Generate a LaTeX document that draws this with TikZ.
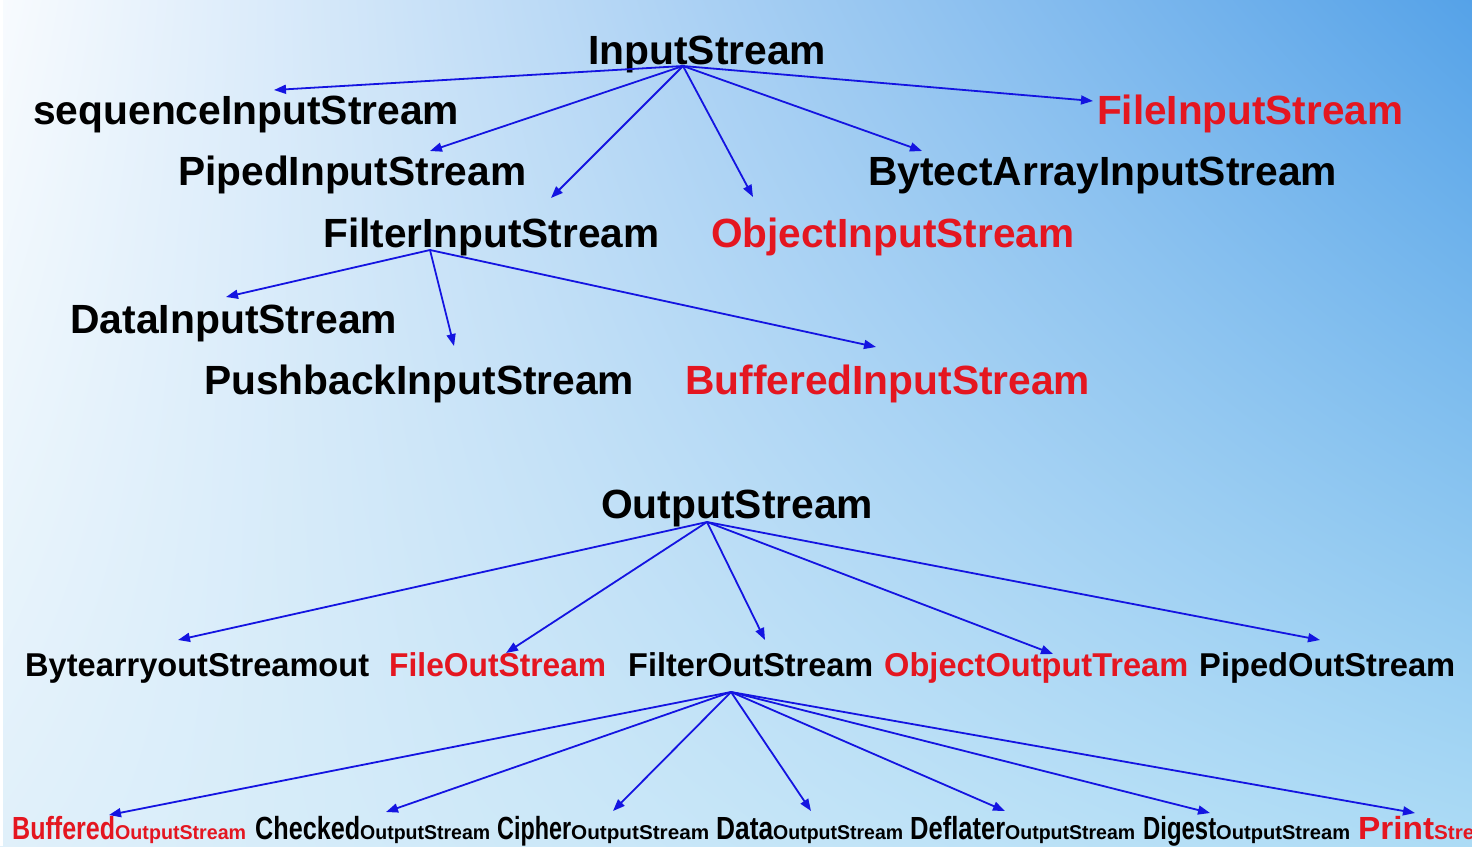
\documentclass[tikz,border=0pt]{standalone}
\usepackage{fontspec}
\usepackage{graphicx}
\setmainfont{Liberation Sans}
\usetikzlibrary{arrows.meta,shadings}
\definecolor{arrblue}{RGB}{20,20,225}
\definecolor{jred}{RGB}{228,22,32}
\definecolor{bgUL}{RGB}{248,251,254}
\definecolor{bgUR}{RGB}{85,162,232}
\definecolor{bgLL}{RGB}{224,240,250}
\definecolor{bgLR}{RGB}{172,219,245}
\newcommand\fitx[2]{\setbox0=\hbox{#2}\pgfmathsetmacro\myratio{#1/\the\wd0}\scalebox{\myratio}[1]{\box0}}
\newcommand\bigpart[2]{\fitx{#1}{\fontsize{32}{38}\selectfont\bfseries #2}}
\newcommand\smallpart[2]{\fitx{#1}{\fontsize{20}{24}\selectfont\bfseries #2}}
\tikzset{
  lvlA/.style={font=\fontsize{40.8}{48}\selectfont\bfseries, inner sep=0pt, anchor=base west},
  lvlB/.style={font=\fontsize{33}{40}\selectfont\bfseries, inner sep=0pt, anchor=base west},
  lvlC/.style={inner sep=0pt, anchor=base west},
  hot/.style={text=jred},
  arr/.style={draw=arrblue, line width=1.8pt, -{Triangle[length=12pt,width=9pt]}},
}
\begin{document}
\begin{tikzpicture}[x=1pt,y=-1pt]
\useasboundingbox (0,0) rectangle (1472,846);
\clip (0,0) rectangle (1472,846);
\shade[upper left=bgUL, upper right=bgUR, lower left=bgLL, lower right=bgLR] (0,0) rectangle (1472,846);
\fill[white] (0,0) rectangle (3,846);

% ---------- InputStream tree ----------
\node[lvlA] (in) at (588,64.5) {\fitx{238}{InputStream}};
\node[lvlA] (seq) at (33,124.5) {\fitx{426}{sequenceInputStream}};
\node[lvlA,hot] (fis) at (1097,124.5) {\fitx{306}{FileInputStream}};
\node[lvlA] (pis) at (178,185.5) {\fitx{348}{PipedInputStream}};
\node[lvlA] (bais) at (868,185.5) {\fitx{469}{BytectArrayInputStream}};
\node[lvlA] (filt) at (323,247.5) {\fitx{336}{FilterInputStream}};
\node[lvlA,hot] (ois) at (711,247.5) {\fitx{363}{ObjectInputStream}};
\node[lvlA] (dis) at (70,333.5) {\fitx{327}{DataInputStream}};
\node[lvlA] (pbis) at (204,394.5) {\fitx{430}{PushbackInputStream}};
\node[lvlA,hot] (bis) at (685,394.5) {\fitx{405}{BufferedInputStream}};

\coordinate (inA) at (683,66);
\coordinate (seqT) at (274,90);
\coordinate (pisT) at (430,151);
\coordinate (filtT) at (551,198);
\coordinate (oisT) at (753,197);
\coordinate (baisT) at (922,151);
\coordinate (fisT) at (1093,101);
\foreach \t in {seqT,pisT,filtT,oisT,baisT,fisT} \draw[arr] (inA) -- (\t);

\coordinate (filtA) at (430,250);
\coordinate (disT) at (226,297);
\coordinate (pbisT) at (454,346);
\coordinate (bisT) at (876,347);
\foreach \t in {disT,pbisT,bisT} \draw[arr] (filtA) -- (\t);

% ---------- OutputStream tree ----------
\node[lvlA] (out) at (601,518.5) {\fitx{272}{OutputStream}};
\node[lvlB] (baos) at (25,676) {\fitx{344}{BytearryoutStreamout}};
\node[lvlB,hot] (fos) at (389,676) {\fitx{217}{FileOutStream}};
\node[lvlB] (filo) at (628,676) {\fitx{245}{FilterOutStream}};
\node[lvlB,hot] (oos) at (884,676) {\fitx{304}{ObjectOutputTream}};
\node[lvlB] (pos) at (1199,676) {\fitx{256}{PipedOutStream}};

\coordinate (outA) at (707,522);
\coordinate (baosT) at (178,640);
\coordinate (fosT) at (506,653);
\coordinate (filoT) at (765,640);
\coordinate (oosT) at (1053,654);
\coordinate (posT) at (1320,640);
\foreach \t in {baosT,fosT,filoT,oosT,posT} \draw[arr] (outA) -- (\t);

\node[lvlC,text=jred] (bos) at (12,839) {\bigpart{103}{Buffered}\smallpart{131}{OutputStream}};
\node[lvlC] (cos) at (255,839) {\bigpart{105}{Checked}\smallpart{130}{OutputStream}};
\node[lvlC] (cios) at (497,839) {\bigpart{74}{Cipher}\smallpart{138}{OutputStream}};
\node[lvlC] (dos) at (716,839) {\bigpart{57}{Data}\smallpart{130}{OutputStream}};
\node[lvlC] (dfos) at (910,839) {\bigpart{95}{Deflater}\smallpart{130}{OutputStream}};
\node[lvlC] (dgos) at (1143,839) {\bigpart{73}{Digest}\smallpart{134}{OutputStream}};
\node[lvlC,text=jred] (ps) at (1358,839) {\bigpart{76}{Print}\smallpart{70}{Stream}};

\coordinate (filoA) at (731,692);
\coordinate (bosT) at (109,815);
\coordinate (cosT) at (386,812);
\coordinate (ciosT) at (613,811);
\coordinate (dosT) at (811,811);
\coordinate (dfosT) at (1005,811);
\coordinate (dgosT) at (1210,813);
\coordinate (psT) at (1415,813);
\foreach \t in {bosT,cosT,ciosT,dosT,dfosT,dgosT,psT} \draw[arr] (filoA) -- (\t);
\end{tikzpicture}
\end{document}
